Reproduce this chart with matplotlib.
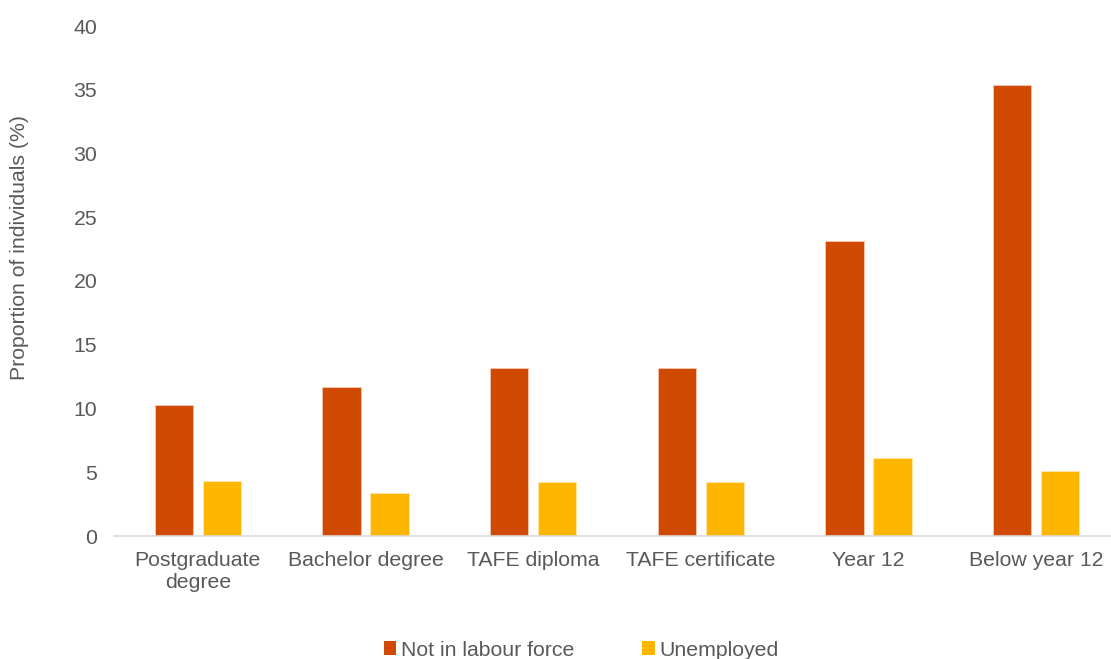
import matplotlib
matplotlib.use("Agg")
import matplotlib.pyplot as plt
from matplotlib.patches import Patch
import numpy as np

categories = ["Postgraduate\ndegree", "Bachelor degree", "TAFE diploma",
              "TAFE certificate", "Year 12", "Below year 12"]
not_in_labour_force = [10.3, 11.7, 13.2, 13.2, 23.1, 35.4]
unemployed = [4.3, 3.4, 4.2, 4.2, 6.1, 5.1]
series_names = ["Not in labour force", "Unemployed"]
yticks = [0, 5, 10, 15, 20, 25, 30, 35, 40]

c_nilf = "#D04A02"
c_unemp = "#FFB600"
text_c = "#595959"

plt.rcParams["font.family"] = ["Liberation Sans", "DejaVu Sans"]
fs = 15.3

fig = plt.figure(figsize=(11.11, 6.59), dpi=100)
ax = fig.add_axes([114/1111, 123/659, (1120-114)/1111, (536-26)/659])

x = np.arange(len(categories))
w = 0.227
off = 0.143
ax.bar(x - off, not_in_labour_force, width=w, color=c_nilf, edgecolor="#F3C9B0", linewidth=0.6)
ax.bar(x + off, unemployed, width=w, color=c_unemp, edgecolor="#FFE8A8", linewidth=0.6)

ax.set_xlim(-0.5, len(categories) - 0.5)
ax.set_ylim(0, 40)
ax.set_yticks(yticks)
ax.set_xticks(x)
ax.set_xticklabels(categories, fontsize=fs, color=text_c, linespacing=1.15)
ax.tick_params(axis="y", length=0, pad=12, labelsize=fs, labelcolor=text_c)
ax.tick_params(axis="x", length=0, pad=11, labelsize=fs, labelcolor=text_c)
for s in ["top", "right", "left"]:
    ax.spines[s].set_visible(False)
ax.spines["bottom"].set_color("#D9D9D9")
ax.spines["bottom"].set_linewidth(1.2)

fig.text(20/1111, 1 - 247/659, "Proportion of individuals (%)", rotation=90,
         ha="center", va="center", fontsize=fs, color=text_c)

handles = [Patch(facecolor=c_nilf, edgecolor="none"), Patch(facecolor=c_unemp, edgecolor="none")]
leg = fig.legend(handles, series_names, loc="center", bbox_to_anchor=(581/1111, 1 - 650/659),
                 ncol=2, frameon=False, fontsize=fs, handlelength=0.6, handleheight=0.6,
                 handletextpad=0.2, columnspacing=3.2, borderaxespad=0)
for t in leg.get_texts():
    t.set_color(text_c)

fig.savefig("out.png", dpi=100)
